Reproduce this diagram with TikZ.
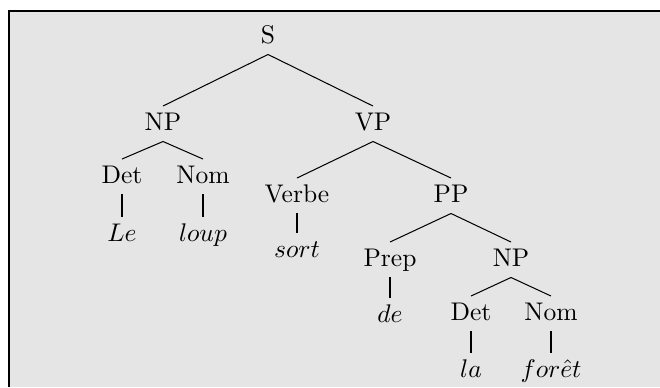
\documentclass[tikz,border=0pt]{standalone}
\begin{document}
\begin{tikzpicture}[x=0.392pt,y=-0.392pt,
  lbl/.style={anchor=base,text height=6.9pt,text depth=2pt,inner sep=2.3pt,font=\fontsize{10}{12}\selectfont},
  br/.style={line width=0.4pt},
  un/.style={line width=1pt}]
\useasboundingbox (0,0) rectangle (660,387);
\fill[white] (0,0) rectangle (660,387);
\fill[gray!20] (9,11) rectangle (660,387);
\draw[line width=0.55pt] (9,387) -- (9,11) -- (660,11);
% nodes
\node[lbl] (S) at (268,43) {S};
\node[lbl] (NP1) at (163,130) {NP};
\node[lbl] (VP) at (373,130) {VP};
\node[lbl] (Det1) at (122,183) {Det};
\node[lbl] (Nom1) at (203,183) {Nom};
\node[lbl] (Le) at (122,241) {$Le$};
\node[lbl] (loup) at (203,241) {$loup$};
\node[lbl] (Verbe) at (297,202) {Verbe};
\node[lbl] (sort) at (297,257) {$sort$};
\node[lbl] (PP) at (451,202) {PP};
\node[lbl] (Prep) at (390,266) {Prep};
\node[lbl] (de) at (390,322) {$de$};
\node[lbl] (NP2) at (511,266) {NP};
\node[lbl] (Det2) at (471,320) {Det};
\node[lbl] (Nom2) at (551,320) {Nom};
\node[lbl] (la) at (471,377) {$la$};
\node[lbl] (foret) at (551,377) {$for\hat{e}t$};
% branches
\draw[br] (S.south) -- (NP1.north);
\draw[br] (S.south) -- (VP.north);
\draw[br] (NP1.south) -- (Det1.north);
\draw[br] (NP1.south) -- (Nom1.north);
\draw[br] (VP.south) -- (Verbe.north);
\draw[br] (VP.south) -- (PP.north);
\draw[br] (PP.south) -- (Prep.north);
\draw[br] (PP.south) -- (NP2.north);
\draw[br] (NP2.south) -- (Det2.north);
\draw[br] (NP2.south) -- (Nom2.north);
\draw[un] (Det1.south) -- (Le.north);
\draw[un] (Nom1.south) -- (loup.north);
\draw[un] (Verbe.south) -- (sort.north);
\draw[un] (Prep.south) -- (de.north);
\draw[un] (Det2.south) -- (la.north);
\draw[un] (Nom2.south) -- (foret.north);
\end{tikzpicture}
\end{document}
